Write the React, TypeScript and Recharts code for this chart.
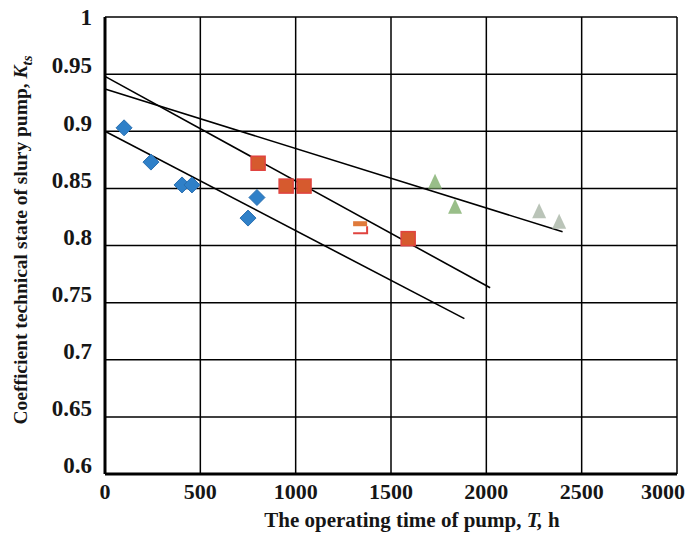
import { ScatterChart, Scatter, XAxis, YAxis, CartesianGrid } from "recharts";

const xTicks = [0, 500, 1000, 1500, 2000, 2500, 3000];
const yTicks = [0.6, 0.65, 0.7, 0.75, 0.8, 0.85, 0.9, 0.95, 1];

const blueT = [100, 241, 404, 456, 750, 797];
const blueK = [0.903, 0.873, 0.853, 0.853, 0.824, 0.842];
const redT = [803, 950, 1044, 1590];
const redK = [0.872, 0.852, 0.852, 0.806];
const redOpenT = [1338];
const redOpenK = [0.816];
const greenT = [1731, 1836];
const greenK = [0.855, 0.833];
const paleT = [2277, 2382];
const paleK = [0.829, 0.82];

// trend lines (end points)
const fit1T = [0, 2400];
const fit1K = [0.937, 0.812];
const fit2T = [0, 2020];
const fit2K = [0.948, 0.763];
const fit3T = [0, 1885];
const fit3K = [0.9, 0.736];

const pts = (t: number[], k: number[]) => t.map((v, i) => ({ t: v, k: k[i] }));

const FONT = "'Liberation Serif', 'Times New Roman', serif";

const Diamond = (p: any) => (
  <polygon
    points={`${p.cx},${p.cy - 8} ${p.cx + 8},${p.cy} ${p.cx},${p.cy + 8} ${p.cx - 8},${p.cy}`}
    fill="#2f80c8"
    stroke="#2a6fb0"
    strokeWidth={1}
  />
);

const Square = (p: any) => (
  <rect x={p.cx - 7} y={p.cy - 7} width={14} height={14} fill="#d65a2e" stroke="#e0433f" strokeWidth={1.5} />
);

const OpenSquare = (p: any) => (
  <g>
    <rect x={p.cx - 7} y={p.cy - 6} width={14} height={5} fill="#e07a3a" />
    <path d={`M${p.cx - 7},${p.cy + 6} H${p.cx + 7} V${p.cy - 1}`} fill="none" stroke="#e0433f" strokeWidth={2} />
  </g>
);

const Tri = (color: string) => (p: any) => (
  <polygon
    points={`${p.cx},${p.cy - 9} ${p.cx + 7},${p.cy + 6} ${p.cx - 7},${p.cy + 6}`}
    fill={color}
    opacity={0.8}
  />
);

const NoDot = () => <g />;

const YTick = (p: any) => {
  const v = p.payload.value;
  const dy = v === 1 ? 3 : -6;
  return (
    <text x={p.x - 5} y={p.y + dy} textAnchor="end" dominantBaseline="middle" fontFamily={FONT} fontWeight="bold" fontSize={23} fill="#161616">
      {v}
    </text>
  );
};

const XTick = (p: any) => {
  const v = p.payload.value;
  const shift = v === 3000 ? -14 : 0;
  return (
    <text x={p.x + shift} y={p.y + 12} textAnchor="middle" dominantBaseline="middle" fontFamily={FONT} fontWeight="bold" fontSize={22} fill="#161616">
      {v}
    </text>
  );
};

export default function App() {
  return (
    <div style={{ position: "absolute", left: 0, top: 0, background: "#fff" }}>
      <ScatterChart width={692} height={536} margin={{ top: 17, right: 15, bottom: 32, left: 25 }}>
        <CartesianGrid stroke="#000" strokeWidth={1.5} />
        <XAxis
          type="number"
          dataKey="t"
          domain={[0, 3000]}
          ticks={xTicks}
          height={30}
          tickLine={false}
          axisLine={{ stroke: "#000", strokeWidth: 3 }}
          tick={<XTick />}
          interval={0}
        />
        <YAxis
          type="number"
          dataKey="k"
          domain={[0.6, 1]}
          ticks={yTicks}
          width={80}
          tickLine={false}
          axisLine={{ stroke: "#000", strokeWidth: 3 }}
          tick={<YTick />}
          interval={0}
        />
        <Scatter data={pts(fit1T, fit1K)} line={{ stroke: "#000", strokeWidth: 1.6 }} shape={NoDot} isAnimationActive={false} />
        <Scatter data={pts(fit2T, fit2K)} line={{ stroke: "#000", strokeWidth: 1.6 }} shape={NoDot} isAnimationActive={false} />
        <Scatter data={pts(fit3T, fit3K)} line={{ stroke: "#000", strokeWidth: 1.6 }} shape={NoDot} isAnimationActive={false} />
        <Scatter data={pts(blueT, blueK)} shape={Diamond} isAnimationActive={false} />
        <Scatter data={pts(redT, redK)} shape={Square} isAnimationActive={false} />
        <Scatter data={pts(redOpenT, redOpenK)} shape={OpenSquare} isAnimationActive={false} />
        <Scatter data={pts(greenT, greenK)} shape={Tri("#7fae6c")} isAnimationActive={false} />
        <Scatter data={pts(paleT, paleK)} shape={Tri("#a9b5a6")} isAnimationActive={false} />
        <text x={412} y={527} textAnchor="middle" fontFamily={FONT} fontWeight="bold" fontSize={21} fill="#161616">
          The operating time of pump, <tspan fontStyle="italic">T,</tspan> h
        </text>
        <text
          transform="translate(27,240) rotate(-90)"
          textAnchor="middle"
          fontFamily={FONT}
          fontWeight="bold"
          fontSize={19.5}
          fill="#161616"
        >
          Coefficient technical state of slury pump, <tspan fontStyle="italic">K</tspan>
          <tspan fontStyle="italic" fontSize={15} dy={5}>ts</tspan>
        </text>
      </ScatterChart>
    </div>
  );
}
